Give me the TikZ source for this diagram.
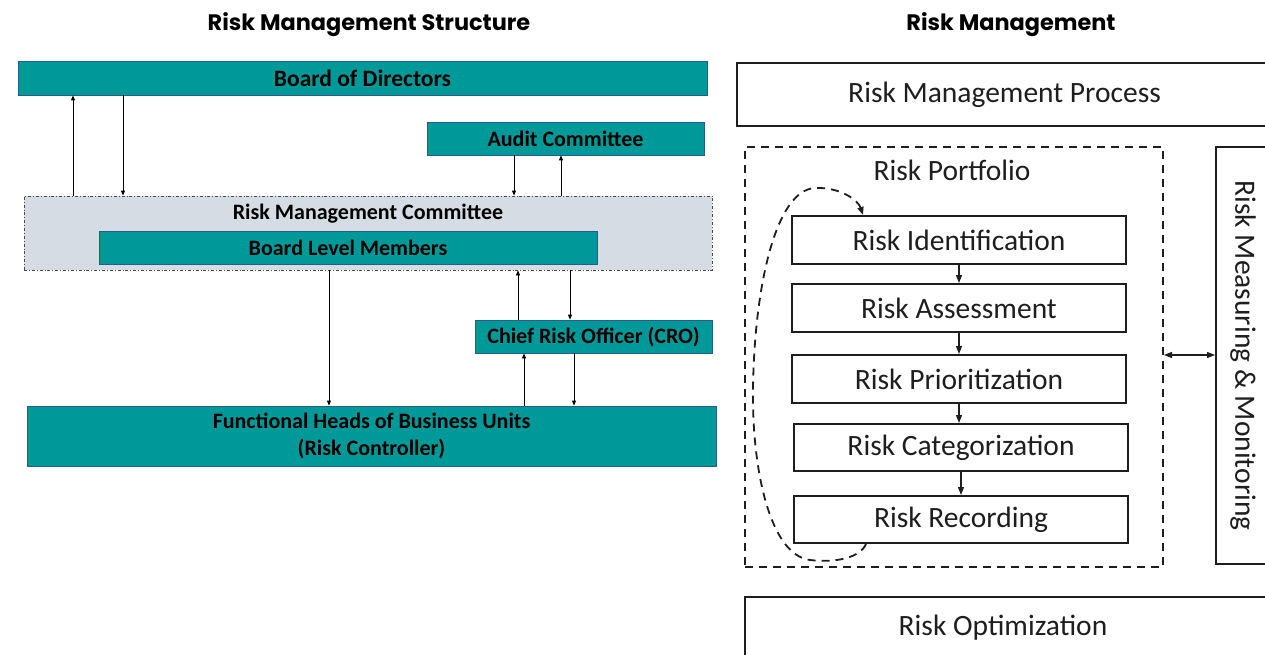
\documentclass[tikz,border=0pt]{standalone}
\usepackage{fontspec}
\setmainfont{Carlito}
\newfontfamily\titlefont{Poppins}
\usetikzlibrary{arrows.meta,calc}
\definecolor{teal1}{RGB}{0,153,153}
\definecolor{tealborder}{RGB}{40,90,140}
\definecolor{rmcfill}{RGB}{214,220,228}
\definecolor{ink}{RGB}{30,30,30}
\begin{document}
\begin{tikzpicture}[x=1pt,y=-1pt,
  tealbox/.style={draw=tealborder,line width=0.8pt,fill=teal1,inner sep=0pt,
    font=\fontsize{22}{27}\selectfont\bfseries,text=black,align=center},
  larr/.style={line width=0.8pt,-{Triangle[length=5pt,width=4pt]}},
  wbox/.style={draw=ink,line width=2pt,fill=white,inner sep=0pt,
    font=\fontsize{29.5}{32}\selectfont,text=ink},
  wtext/.style={font=\fontsize{29.5}{32}\selectfont,text=ink},
  rarr/.style={draw=ink,line width=1.2pt,-{Triangle[length=8pt,width=6pt]}},
  ttl/.style={font=\titlefont\bfseries\fontsize{22.4}{26}\selectfont,text=black}
]
\useasboundingbox (0,0) rectangle (1265,655);
\clip (0,0) rectangle (1265,655);
\fill[white] (0,0) rectangle (1265,655);

% titles
\node[ttl] (t1) at (369,25) {Risk Management Structure};
\node[ttl] (t2) at (1011,25) {Risk Management};

% ----- left structure -----
\node[tealbox,minimum width=689,minimum height=34,font=\fontsize{23.5}{27}\selectfont\bfseries] (bod) at (362.5,78) {Board of Directors};
\node[tealbox,minimum width=277,minimum height=33] (aud) at (565.5,138.5) {Audit Committee};
\node[draw=ink!80,line width=0.8pt,dash dot,fill=rmcfill,minimum width=688,minimum height=74,inner sep=0pt] (rmc) at (368,233) {};
\node[font=\fontsize{22}{26}\selectfont\bfseries] (rmcl) at (368,214) {Risk Management Committee};
\node[tealbox,minimum width=498,minimum height=33] (blm) at (348,247.5) {Board Level Members};
\node[tealbox,minimum width=237,minimum height=33] (cro) at (593.5,336.5) {Chief Risk Officer (CRO)};
\node[tealbox,minimum width=689,minimum height=60] (fh) at (371.5,436) {Functional Heads of Business Units\\(Risk Controller)};

\coordinate (x73) at (73,0);
\coordinate (x123) at (123,0);
\coordinate (x514) at (514,0);
\coordinate (x561) at (561,0);
\coordinate (x329) at (329,0);
\coordinate (x518) at (518,0);
\coordinate (x570) at (570,0);
\coordinate (x524) at (524,0);
\coordinate (x574) at (574,0);

\draw[larr] (rmc.north -| x73) -- (bod.south -| x73);
\draw[larr] (bod.south -| x123) -- (rmc.north -| x123);
\draw[larr] (aud.south -| x514) -- (rmc.north -| x514);
\draw[larr] (rmc.north -| x561) -- (aud.south -| x561);
\draw[larr] (rmc.south -| x329) -- (fh.north -| x329);
\draw[larr] (cro.north -| x518) -- (rmc.south -| x518);
\draw[larr] (rmc.south -| x570) -- (cro.north -| x570);
\draw[larr] (fh.north -| x524) -- (cro.south -| x524);
\draw[larr] (cro.south -| x574) -- (fh.north -| x574);

% ----- right process -----
\node[wbox,minimum width=535,minimum height=63] (rmp) at (1004.5,94.5) {Risk Management Process};
\node[draw=ink,line width=2pt,dash pattern=on 8pt off 6pt,minimum width=418,minimum height=420,inner sep=0pt] (port) at (954,357) {};
\node[wtext] (portl) at (952,170) {Risk Portfolio};
\node[wbox,minimum width=334,minimum height=48] (ident) at (959,240) {Risk Identification};
\node[wbox,minimum width=334,minimum height=48] (assess) at (959,308) {Risk Assessment};
\node[wbox,minimum width=334,minimum height=48] (prior) at (959,379) {Risk Prioritization};
\node[wbox,minimum width=334,minimum height=47] (categ) at (961,447.5) {Risk Categorization};
\node[wbox,minimum width=334,minimum height=47] (rec) at (961,519.5) {Risk Recording};
\node[wbox,minimum width=54,minimum height=417] (rmm) at (1243,355.5) {};
\node[wtext,rotate=-90] (rmml) at (1243,355.5) {Risk Measuring \& Monitoring};
\node[wbox,minimum width=530,minimum height=70] (ropt) at (1010,632) {};
\node[wtext] (roptl) at (1003,628) {Risk Optimization};

\draw[rarr] (ident.south) -- (assess.north);
\draw[rarr] (assess.south) -- (prior.north);
\draw[rarr] (prior.south) -- (prior.south |- categ.north);
\draw[rarr] (categ.south) -- (rec.north);

\coordinate (y355) at (0,355);
\draw[draw=ink,line width=1.2pt,{Triangle[length=8pt,width=6pt]}-{Triangle[length=8pt,width=6pt]}] (port.east |- y355) -- (rmm.west |- y355);

% feedback loop
\coordinate (ls) at ($(rec.south west)+(73,0)$);
\coordinate (le) at ($(ident.north west)+(72,0)$);
\draw[draw=ink,line width=1.8pt,dash pattern=on 8pt off 6pt,-{Triangle[length=8pt,width=6pt]}]
  (ls) .. controls (860,558) and (835,563) .. (810,560)
       .. controls (770,555) and (752,470) .. (753,390)
       .. controls (754,290) and (775,190) .. (815,188)
       .. controls (840,187) and (858,200) .. (le);
\end{tikzpicture}
\end{document}
